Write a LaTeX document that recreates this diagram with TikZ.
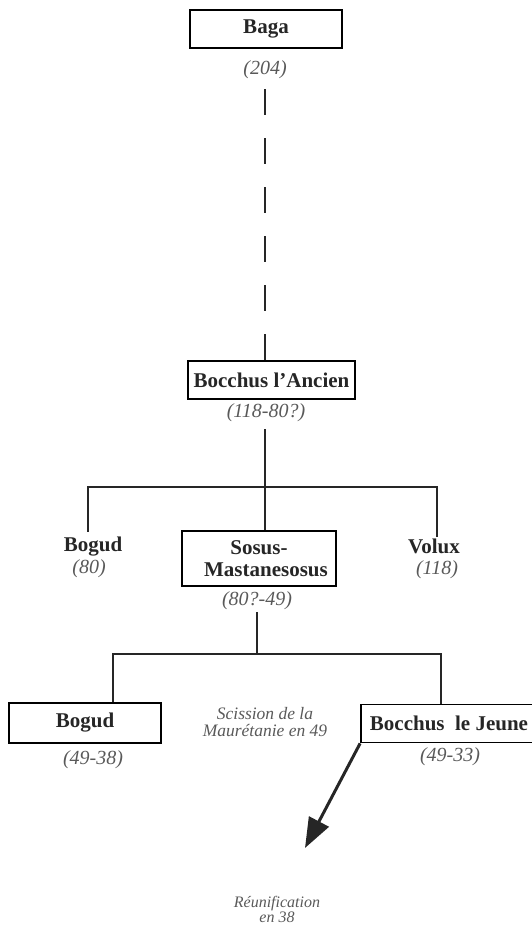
\documentclass[tikz,border=0pt]{standalone}
\usepackage{fontspec}
\setmainfont{Liberation Serif}
\usetikzlibrary{arrows.meta}

\begin{document}
\begin{tikzpicture}
    [x=1pt, y={(0pt,-1pt)},
    inner sep=0pt,
    box/.style={
        draw,
        line width=1.8pt,
        font=\bfseries\fontsize{21}{22}\selectfont,
        text=black!85,
        align=center,
        minimum height=38pt
    },
    king/.style={font=\bfseries\fontsize{21}{22}\selectfont, text=black!85},
    date/.style={font=\itshape\fontsize{20}{22}\selectfont, text=black!65},
    note/.style={font=\itshape\fontsize{17.5}{16.5}\selectfont, text=black!65, align=center},
    line/.style={draw, line width=1.8pt, color=black!85},
    dashline/.style={line, dash pattern=on 26pt off 23pt},
    arrow/.style={draw, line width=3pt, color=black!85, -{Triangle[length=30pt,width=22pt]}}
    ]
    \useasboundingbox (0,0) rectangle (531,926);

    % Rois
    \node[box, minimum width=152pt] (baga) at (266,29) {Baga};
    \node[box, minimum width=167pt] (ancien) at (271.5,380) {Bocchus l'Ancien};
    \node[king] (bogudA) at (93,546.5) {Bogud};
    \node[box, minimum width=154pt, minimum height=55pt] (sosus) at (259,558.5) {Sosus-\\\hspace*{14pt}Mastanesosus};
    \node[king] (volux) at (434,546.5) {Volux};
    \node[box, minimum width=152pt, minimum height=40pt] (bogudB) at (85,723) {Bogud};
    \node[box, minimum width=176pt] (jeune) at (449,723.5) {Bocchus\ \ le Jeune};

    % Dates
    \foreach \nm/\x/\y/\txt in {bagadate/265/70/(204), anciendate/266/413/(118-80?), bogudAdate/89/569/(80),
        sosusdate/257/601/(80?-49), voluxdate/437/570/(118), bogudBdate/93/760/(49-38), jeunedate/450/757/(49-33)}{
        \node[date] (\nm) at (\x,\y) {\txt};
    }

    % Notes
    \node[note] (scission) at (265,722) {Scission de la\\Maurétanie en 49};
    \node[note, font=\itshape\fontsize{16}{13.5}\selectfont] (reunif) at (277,909) {Réunification\\en 38};
    \coordinate (reunifarrow) at (305,848);

    % Lignes
    \draw[dashline] ([yshift=-10pt]bagadate.south) -- (ancien.north -| bagadate.south);
    \draw[line] ([xshift=-6.5pt,yshift=-7pt]ancien.south |- anciendate.south) -- ++(0,58) coordinate (fork1);
    \draw[line] ([xshift=-5pt,yshift=5pt]bogudA.north) |- (fork1) -| ([xshift=3pt,yshift=2pt]volux.north);
    \draw[line] (fork1) -- (sosus.north -| fork1);
    \draw[line] ([yshift=-2pt]sosusdate.south) -- ++(0,42) coordinate (fork2);
    \draw[line] ([xshift=28pt]bogudB.north) |- (fork2) -| ([xshift=-8pt]jeune.north);

    % Réunification
    \draw[arrow] (jeune.south west) -- (reunifarrow);
\end{tikzpicture}
\end{document}
